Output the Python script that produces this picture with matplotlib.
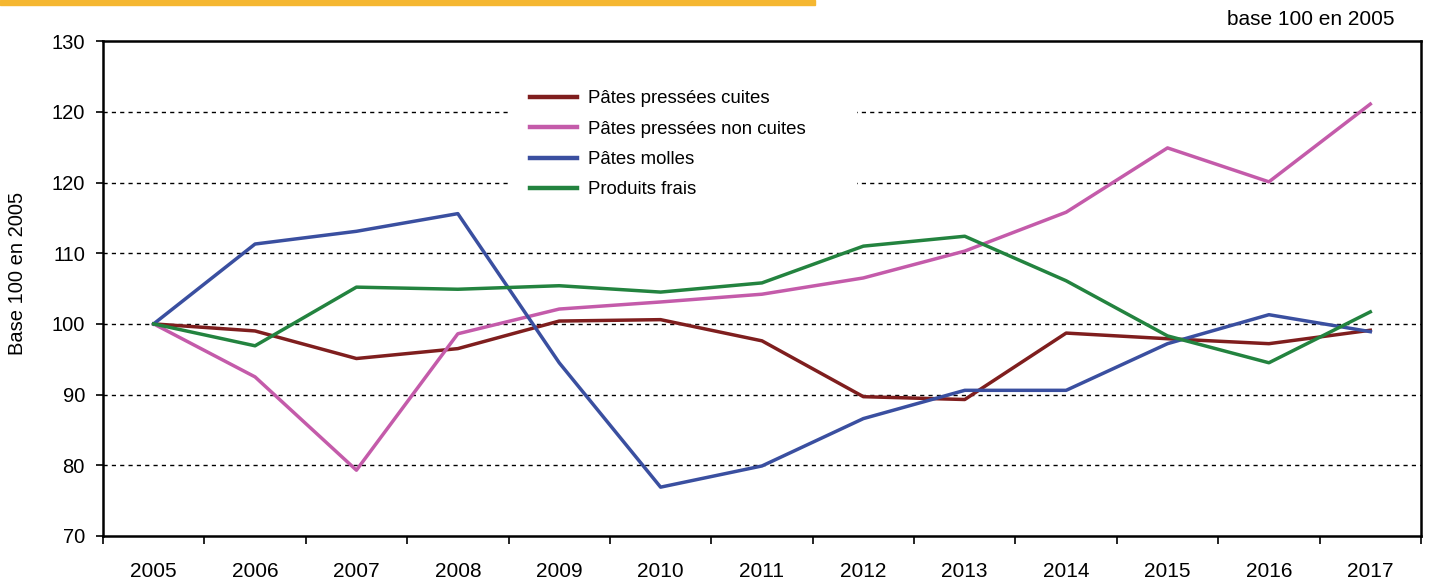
import matplotlib.pyplot as plt
from matplotlib.patches import Rectangle

# Data (indice base 100 en 2005)
years = ['2005', '2006', '2007', '2008', '2009', '2010', '2011',
         '2012', '2013', '2014', '2015', '2016', '2017']
cuites = [100, 99.0, 95.1, 96.5, 100.4, 100.6, 97.6, 89.7, 89.3, 98.7, 97.9, 97.2, 99.1]
non_cuites = [100, 92.5, 79.3, 98.6, 102.1, 103.1, 104.2, 106.5, 110.3, 115.8, 124.9, 120.1, 131.1]
molles = [100, 111.3, 113.1, 115.6, 94.5, 76.9, 79.9, 86.6, 90.6, 90.6, 97.2, 101.3, 98.9]
frais = [100, 96.9, 105.2, 104.9, 105.4, 104.5, 105.8, 111.0, 112.4, 106.1, 98.3, 94.5, 101.7]

# y tick labels as printed on the original chart (the "120" is there twice)
ytick_vals = [70, 80, 90, 100, 110, 120, 130, 140]
ytick_labels = ['70', '80', '90', '100', '110', '120', '120', '130']

plt.rcParams['font.family'] = ['Liberation Sans', 'DejaVu Sans']

fig = plt.figure(figsize=(14.3, 5.8), dpi=100)
ax = fig.add_axes([0.072, 0.076, 0.9217, 0.853])

# orange strip at the top left
fig.patches.append(Rectangle((0, 1 - 5 / 580), 815 / 1430, 5 / 580,
                             transform=fig.transFigure, color='#F5B731', zorder=0))

x = list(range(len(years)))
ax.plot(x, cuites, color='#7F1E1E', lw=2.5, label='Pâtes pressées cuites', zorder=3)
ax.plot(x, non_cuites, color='#C45BAA', lw=2.5, label='Pâtes pressées non cuites', zorder=3)
ax.plot(x, molles, color='#3A4FA0', lw=2.5, label='Pâtes molles', zorder=3)
ax.plot(x, frais, color='#23833F', lw=2.5, label='Produits frais', zorder=3)

ax.set_xlim(-0.5, len(years) - 0.5)
ax.set_ylim(70, 140)

# x axis: labels at categories, tick marks between them
ax.set_xticks(x)
ax.set_xticklabels(years, fontsize=15)
ax.tick_params(axis='x', which='major', length=0, pad=19)
ax.set_xticks([i - 0.5 for i in range(len(years) + 1)], minor=True)
ax.tick_params(axis='x', which='minor', length=6, width=1.2, direction='out')

ax.set_yticks(ytick_vals)
ax.set_yticklabels(ytick_labels, fontsize=14.5)
ax.tick_params(axis='y', length=5, width=1.2, pad=8)

for v in ytick_vals[1:-1]:
    ax.axhline(v, color='black', lw=1, ls=(0, (3, 3)), zorder=1)

for s in ax.spines.values():
    s.set_linewidth(1.8)

ax.set_ylabel('Base 100 en 2005', fontsize=14.5)
ax.yaxis.set_label_coords(-0.058, 0.531)

fig.text(0.9755, 0.967, 'base 100 en 2005', ha='right', va='center', fontsize=15)

# white block behind the legend hides the grid there
ax.add_patch(Rectangle((0.309, 0.679), 0.263, 0.232, transform=ax.transAxes,
                       facecolor='white', edgecolor='none', zorder=2))
leg = ax.legend(loc='upper left', bbox_to_anchor=(0.324, 0.901), fontsize=13.4,
                handlelength=2.5, handletextpad=0.6, labelspacing=0.72,
                frameon=False, borderpad=0, borderaxespad=0)
for h in leg.get_lines():
    h.set_linewidth(3.2)
leg.set_zorder(5)

fig.savefig('out.png', dpi=100)
